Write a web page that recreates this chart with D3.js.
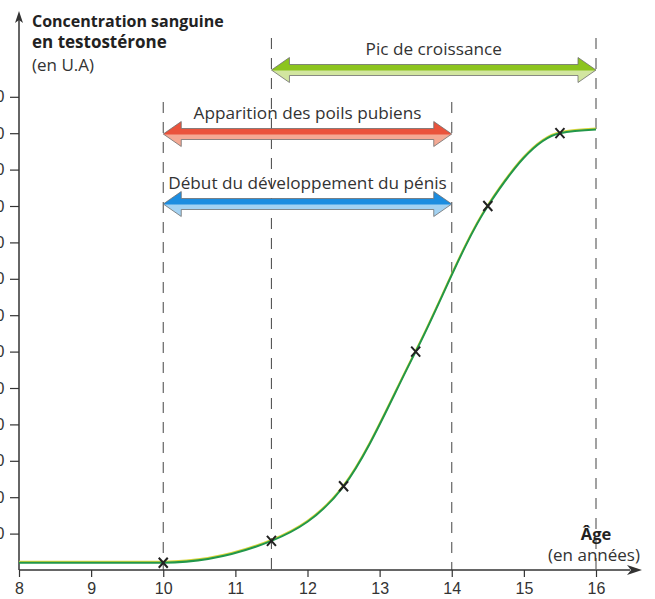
<!DOCTYPE html>
<html lang="fr">
<head>
  <meta charset="UTF-8">
  <title>Testostérone et puberté</title>
  <script src="https://d3js.org/d3.v7.min.js"></script>
  <style>
    html, body { margin: 0; padding: 0; background: #fff; }
    svg { display: block; font-family: "Open Sans", sans-serif; }
    .tick text { font-size: 16px; fill: #333; }
    .tick line { stroke: #333; stroke-width: 1.2; }
  </style>
</head>
<body>
<svg width="655" height="599"></svg>

<script>
  // Données
  const curveAges   = [8, 10, 11.5, 12.5, 13.5, 14.5, 15.5, 16];
  const curveValues = [2, 2, 8, 23, 60, 100, 120, 121];
  const pointAges   = [10, 11.5, 12.5, 13.5, 14.5, 15.5];
  const xTicks = [8, 9, 10, 11, 12, 13, 14, 15, 16];
  const yTicks = [10, 20, 30, 40, 50, 60, 70, 80, 90, 100, 110, 120, 130];

  const phaseNames = ["Pic de croissance", "Apparition des poils pubiens", "Début du développement du pénis"];
  const phaseStart = [11.5, 10, 10];
  const phaseEnd   = [16, 14, 14];

  // Mise en page
  const rowY = [70, 134, 204];
  const phaseColors = [
    {top: "#8cc41e", bottom: "#d2e6a0"},
    {top: "#ea533c", bottom: "#f4a994"},
    {top: "#1c8de0", bottom: "#a3d2f2"}
  ];

  const svg = d3.select("svg");
  const x = d3.scaleLinear().domain([8, 16]).range([19, 596]);
  const y = d3.scaleLinear().domain([0, 130]).range([570, 96.8]);

  // Lignes verticales en pointillés
  const bounds = Array.from(new Set(phaseStart.concat(phaseEnd)));
  bounds.forEach(b => {
    const rows = phaseNames.map((n, i) => i).filter(i => phaseStart[i] === b || phaseEnd[i] === b);
    const top = d3.min(rows, i => rowY[i]) - 32;
    svg.append("line")
      .attr("x1", x(b)).attr("x2", x(b))
      .attr("y1", top).attr("y2", y(0))
      .attr("stroke", "#555").attr("stroke-width", 1.1)
      .attr("stroke-dasharray", "11,9");
  });

  // Axes
  const xAxis = svg.append("g")
    .attr("transform", `translate(0,${y(0)})`)
    .call(d3.axisBottom(x).tickValues(xTicks).tickSize(7).tickPadding(6).tickFormat(d3.format("d")));
  xAxis.select(".domain").remove();

  const yAxis = svg.append("g")
    .attr("transform", `translate(${x(8)},0)`)
    .call(d3.axisLeft(y).tickValues(yTicks).tickSize(9).tickPadding(5.5));
  yAxis.select(".domain").remove();

  svg.append("line")
    .attr("x1", x(8)).attr("x2", 630)
    .attr("y1", y(0)).attr("y2", y(0))
    .attr("stroke", "#333").attr("stroke-width", 1.5);
  svg.append("path")
    .attr("d", `M642,${y(0)} L627,${y(0) - 5} L631,${y(0)} L627,${y(0) + 5} Z`)
    .attr("fill", "#333");

  svg.append("line")
    .attr("x1", x(8)).attr("x2", x(8))
    .attr("y1", y(0)).attr("y2", 20)
    .attr("stroke", "#333").attr("stroke-width", 1.5);
  svg.append("path")
    .attr("d", `M${x(8)},11 L${x(8) - 4},23 L${x(8)},20 L${x(8) + 4},23 Z`)
    .attr("fill", "#333");

  // Titres
  const title = svg.append("text").attr("x", 32).attr("fill", "#222").style("font-size", "16px");
  title.append("tspan").attr("x", 32).attr("y", 27).attr("font-weight", "bold").text("Concentration sanguine");
  title.append("tspan").attr("x", 32).attr("y", 48).attr("font-weight", "bold")
    .style("font-size", "17px").text("en testostérone");
  title.append("tspan").attr("x", 32).attr("y", 71).attr("fill", "#333")
    .style("font-size", "17px").text("(en U.A)");

  svg.append("text").attr("x", 596).attr("y", 540)
    .attr("text-anchor", "middle").attr("font-weight", "bold").attr("fill", "#222")
    .style("font-size", "16.5px").text("Âge");
  svg.append("text").attr("x", 594).attr("y", 561)
    .attr("text-anchor", "middle").attr("fill", "#333")
    .style("font-size", "17px").text("(en années)");

  // Flèches des périodes
  const defs = svg.append("defs");
  phaseColors.forEach((c, i) => {
    const g = defs.append("linearGradient").attr("id", "grad" + i)
      .attr("x1", 0).attr("x2", 0).attr("y1", 0).attr("y2", 1);
    g.append("stop").attr("offset", "0%").attr("stop-color", c.top);
    g.append("stop").attr("offset", "50%").attr("stop-color", c.top);
    g.append("stop").attr("offset", "54%").attr("stop-color", c.bottom);
    g.append("stop").attr("offset", "100%").attr("stop-color", c.bottom);
  });

  const hl = 18, hh = 12.5, sh = 5.5;
  phaseNames.forEach((name, i) => {
    const x0 = x(phaseStart[i]), x1 = x(phaseEnd[i]), cy = rowY[i];
    const pts = [
      [x0, cy], [x0 + hl, cy - hh], [x0 + hl, cy - sh], [x1 - hl, cy - sh], [x1 - hl, cy - hh],
      [x1, cy], [x1 - hl, cy + hh], [x1 - hl, cy + sh], [x0 + hl, cy + sh], [x0 + hl, cy + hh]
    ];
    svg.append("path")
      .attr("d", "M" + pts.map(p => p.join(",")).join("L") + "Z")
      .attr("fill", `url(#grad${i})`)
      .attr("stroke", "#6f6f6f").attr("stroke-width", 0.8);
    svg.append("text")
      .attr("x", (x0 + x1) / 2).attr("y", cy - 15)
      .attr("text-anchor", "middle").attr("fill", "#333")
      .style("font-size", "17.2px").text(name);
  });

  // Courbe
  const curveData = curveAges.map((a, i) => ({age: a, value: curveValues[i]}));
  const line = d3.line().x(d => x(d.age)).y(d => y(d.value)).curve(d3.curveMonotoneX);
  svg.append("path").datum(curveData).attr("d", line)
    .attr("transform", "translate(0,-1)")
    .attr("fill", "none").attr("stroke", "#d9d63a").attr("stroke-width", 2);
  svg.append("path").datum(curveData).attr("d", line)
    .attr("fill", "none").attr("stroke", "#22974a").attr("stroke-width", 2);

  // Points mesurés
  const pts = pointAges.map(a => ({age: a, value: curveValues[curveAges.indexOf(a)]}));
  svg.selectAll("path.cross").data(pts).join("path")
    .attr("class", "cross")
    .attr("d", d => {
      const cx = x(d.age), cy = y(d.value), s = 4.5;
      return `M${cx - s},${cy - s - 0.5}L${cx + s},${cy + s + 0.5}M${cx + s},${cy - s - 0.5}L${cx - s},${cy + s + 0.5}`;
    })
    .attr("stroke", "#222").attr("stroke-width", 2).attr("fill", "none");
</script>
</body>
</html>
